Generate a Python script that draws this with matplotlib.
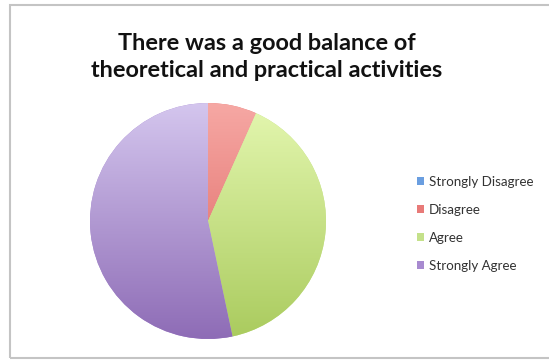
import numpy as np
import matplotlib
matplotlib.use("Agg")
import matplotlib.pyplot as plt
from matplotlib.colors import LinearSegmentedColormap
from matplotlib.patches import Rectangle

categories = ["Strongly Disagree", "Disagree", "Agree", "Strongly Agree"]
values = [0, 2, 12, 16]
title = "There was a good balance of\ntheoretical and practical activities"
top_colors = ["#8fb8ec", "#f6a8a4", "#e4f7b0", "#d4c6ee"]
bottom_colors = ["#4a7fc8", "#dc5e5a", "#aacb5e", "#8e6cb6"]
legend_colors = ["#6a9ee0", "#e87a78", "#c4e18a", "#a88ad0"]

fig = plt.figure(figsize=(5.49, 3.6), dpi=100)
fig.patch.set_facecolor("white")

# outer frame
fig.patches.append(Rectangle((9.5/549, 1 - 358/360), 560/549, 353/360,
                             transform=fig.transFigure, fill=False,
                             edgecolor="#c4c4c4", linewidth=1.5))

fig.text(267 / 549, 1 - 57 / 360, title, ha="center", va="center", fontsize=16.9,
         fontweight="bold", family="Lato", color="#111111", linespacing=1.3)

R = 1.0
ax = fig.add_axes([(208 - 118) / 549, 1 - (221 + 118) / 360, 236 / 549, 236 / 360])
wedges, _ = ax.pie(values, startangle=90, counterclock=False, radius=R,
                   colors=legend_colors, wedgeprops=dict(linewidth=0))
ax.set_xlim(-R, R)
ax.set_ylim(-R, R)
ax.set_aspect("equal")
ax.axis("off")

grad = np.linspace(0, 1, 256).reshape(-1, 1)
for w, tc, bc in zip(wedges, top_colors, bottom_colors):
    cmap = LinearSegmentedColormap.from_list("g", [bc, tc])
    im = ax.imshow(grad, cmap=cmap, extent=(-R, R, -R, R), origin="lower",
                   aspect="auto", zorder=w.get_zorder() + 0.1)
    im.set_clip_path(w)

handles = [Rectangle((0, 0), 1, 1, facecolor=c, edgecolor="none") for c in legend_colors]
leg = fig.legend(handles, categories, loc="center left",
                 bbox_to_anchor=(405 / 549, 1 - 224 / 360), frameon=False,
                 prop={"family": "Lato", "size": 9.6}, handlelength=0.55,
                 handleheight=0.55, handletextpad=0.35, labelspacing=1.2)
for t in leg.get_texts():
    t.set_color("#333333")

fig.savefig("out.png", dpi=100, facecolor="white")
